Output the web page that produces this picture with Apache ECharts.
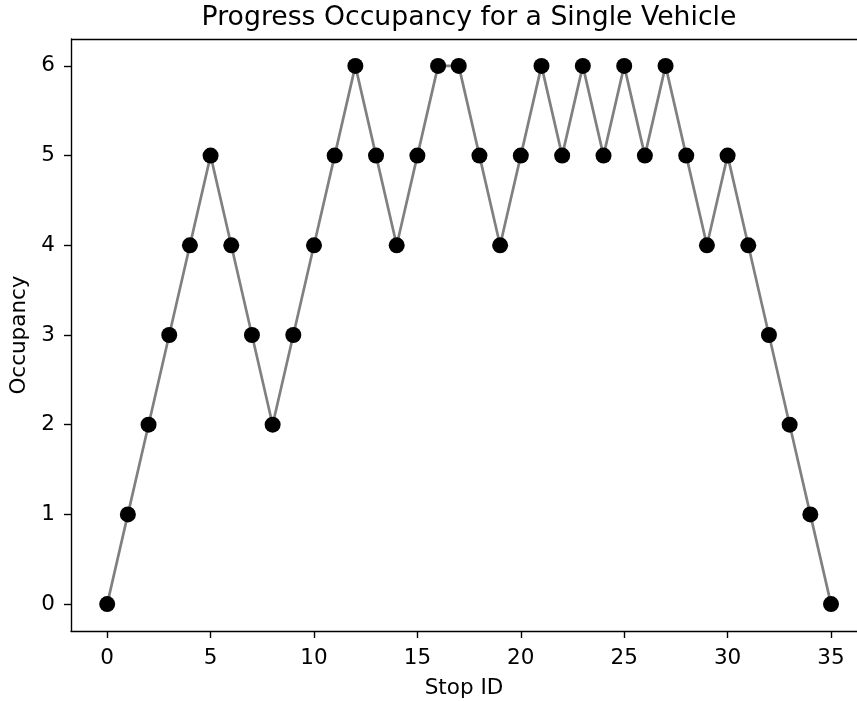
<!DOCTYPE html>
<html>
<head>
<meta charset="utf-8">
<script src="https://cdn.jsdelivr.net/npm/echarts@6/dist/echarts.min.js"></script>
<style>html,body{margin:0;padding:0;background:#fff}#c{width:857px;height:701px}</style>
</head>
<body>
<div id="c"></div>
<script>
const stops = [0,1,2,3,4,5,6,7,8,9,10,11,12,13,14,15,16,17,18,19,20,21,22,23,24,25,26,27,28,29,30,31,32,33,34,35];
const occupancy = [0,1,2,3,4,5,4,3,2,3,4,5,6,5,4,5,6,6,5,4,5,6,5,6,5,6,5,6,5,4,5,4,3,2,1,0];
const xTicks = [0,5,10,15,20,25,30,35];
const yTicks = [0,1,2,3,4,5,6];
const titleText = 'Progress Occupancy for a Single Vehicle';
const xName = 'Stop ID';
const yName = 'Occupancy';

const font = 'DejaVu Sans';
const chart = echarts.init(document.getElementById('c'), null, {renderer:'canvas'});
const data = stops.map((s,i)=>[s, occupancy[i]]);
chart.setOption({
  animation:false,
  backgroundColor:'#fff',
  graphic:[{type:'text', x:469, y:18, style:{text:titleText, font:'26.7px "DejaVu Sans"', fill:'#000', textAlign:'center', textVerticalAlign:'middle'}},
           {type:'line', shape:{x1:71,y1:39.5,x2:857,y2:39.5}, style:{stroke:'#000', lineWidth:1.4}}],
  grid:{left:71, top:39, width:786, height:592, containLabel:false, outerBoundsMode:'none'},
  xAxis:{type:'value', min:-1.75, max:36.257, name:xName, nameLocation:'middle', nameGap:46,
    nameTextStyle:{fontFamily:font, fontSize:21.5, color:'#000'},
    axisLine:{show:true, onZero:false, lineStyle:{color:'#000', width:1.4}},
    axisTick:{show:true, inside:false, length:7, lineStyle:{color:'#000', width:1.4}, customValues:xTicks},
    axisLabel:{fontFamily:font, fontSize:21.5, color:'#000', margin:16, customValues:xTicks},
    splitLine:{show:false}},
  yAxis:{type:'value', min:-0.3, max:6.3, name:yName, nameLocation:'middle', nameGap:40, nameRotate:90,
    nameTextStyle:{fontFamily:font, fontSize:21.5, color:'#000'},
    axisLine:{show:true, onZero:false, lineStyle:{color:'#000', width:1.4}},
    axisTick:{show:true, inside:false, length:7, lineStyle:{color:'#000', width:1.4}, customValues:yTicks},
    axisLabel:{fontFamily:font, fontSize:21.5, color:'#000', margin:16, customValues:yTicks},
    splitLine:{show:false}},
  series:[{type:'line', data:data, symbol:'circle', symbolSize:16, showAllSymbol:true,
    lineStyle:{color:'#808080', width:2.7}, itemStyle:{color:'#000', borderWidth:0}, z:3}]
});
</script>
</body>
</html>
